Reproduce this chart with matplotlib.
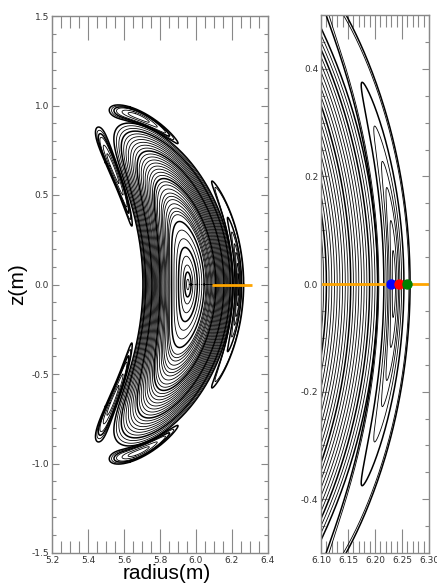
import numpy as np
import matplotlib
matplotlib.use("Agg")
import matplotlib.pyplot as plt
from matplotlib.ticker import MultipleLocator, FormatStrFormatter

# ---- data ----
# magnetic axis and crescent geometry
axis_R = 5.955
bend_radius = 1.18
half_width_out = 0.25
half_width_in = 0.25
half_height = 0.99
# nested flux-surface labels (normalised minor radius)
surface_rho = [0.03, 0.07, 0.11, 0.16, 0.21, 0.26, 0.31, 0.36,
               0.40, 0.42, 0.44, 0.465, 0.49, 0.51, 0.53, 0.555, 0.58, 0.60,
               0.62, 0.64, 0.66, 0.68, 0.70, 0.72, 0.74, 0.76, 0.78, 0.80,
               0.82, 0.84, 0.86, 0.88, 0.90, 0.92, 0.94, 0.96, 0.98, 1.00]
thick_surfaces = [0.07, 0.21, 0.36, 0.62, 0.80, 0.94, 1.00]
# island chain: centre (rho, theta in degrees), half width, half span
island_rho = [1.12, 1.075, 1.10, 1.10, 1.075]
island_theta = [0, 63, 130, -130, -63]
island_halfwidth = [0.12, 0.075, 0.075, 0.075, 0.075]
island_span = [26, 20, 27, 27, 20]
loops_right = [1.0, 0.93, 0.62, 0.48, 0.37, 0.29, 0.19, 0.10]
loops_other = [1.0, 0.9, 0.8, 0.7, 0.5, 0.3]
# scan line and sample points
scan_R = [6.09, 6.31]
scan_Z = [0.0, 0.0]
point_R = [6.230, 6.245, 6.260]
point_Z = [0.0, 0.0, 0.0]
point_colors = ["#0000ff", "#ff0000", "#008000"]


def to_RZ(rho, th):
    c = np.cos(th)
    a = np.where(c >= 0, half_width_out, half_width_in)
    x = a * rho * c
    y = half_height * rho * np.sin(th)
    r = bend_radius + x
    ang = y / bend_radius
    R = axis_R - bend_radius + r * np.cos(ang)
    Z = r * np.sin(ang)
    return R, Z


fig = plt.figure(figsize=(4.37, 5.85), dpi=100)
axL = fig.add_axes([52 / 437, 32 / 585, 216 / 437, 537 / 585])
axR = fig.add_axes([321 / 437, 32 / 585, 108 / 437, 538 / 585])

th = np.linspace(0, 2 * np.pi, 600)
for ax in (axL, axR):
    for rho in surface_rho:
        R, Z = to_RZ(rho, th)
        lw = 1.1 if rho in thick_surfaces else 0.6
        ax.plot(R, Z, color="black", lw=lw, solid_joinstyle="round")
    for k, (rc, tc, hw, sp) in enumerate(zip(island_rho, island_theta,
                                             island_halfwidth, island_span)):
        loops = loops_right if k == 0 else loops_other
        for s in loops:
            rr = rc + hw * s * np.cos(th)
            tt = np.deg2rad(tc + sp * s * np.sin(th))
            R, Z = to_RZ(rr, tt)
            lw = 1.1 if s in (1.0, 0.62, 0.8) else 0.6
            ax.plot(R, Z, color="black", lw=lw)
    ax.plot(scan_R, scan_Z, color="#ffa500", lw=2, solid_capstyle="butt")

for R, Z, c in zip(point_R, point_Z, point_colors):
    axR.plot(R, Z, "o", color=c, ms=6.5, mec=c, zorder=5)

spine_col = "#888888"
lab_col = "#333333"
for ax in (axL, axR):
    for sp in ax.spines.values():
        sp.set_color(spine_col)
        sp.set_linewidth(1.0)
    ax.tick_params(axis="both", which="both", direction="in", colors=spine_col,
                   labelcolor=lab_col, labelsize=6.5, top=True, right=True)
    ax.tick_params(axis="x", which="major", length=17, width=0.8, pad=2)
    ax.tick_params(axis="x", which="minor", length=8.5, width=0.8)
    ax.tick_params(axis="y", which="major", length=5, width=0.8, pad=2)
    ax.tick_params(axis="y", which="minor", length=3, width=0.8)

axL.set_xlim(5.2, 6.4)
axL.set_ylim(-1.5, 1.5)
axL.xaxis.set_major_locator(MultipleLocator(0.2))
axL.xaxis.set_minor_locator(MultipleLocator(0.05))
axL.yaxis.set_major_locator(MultipleLocator(0.5))
axL.yaxis.set_minor_locator(MultipleLocator(0.1))
axL.xaxis.set_major_formatter(FormatStrFormatter("%.1f"))
axL.yaxis.set_major_formatter(FormatStrFormatter("%.1f"))

axR.set_xlim(6.10, 6.30)
axR.set_ylim(-0.5, 0.5)
axR.xaxis.set_major_locator(MultipleLocator(0.05))
axR.xaxis.set_minor_locator(MultipleLocator(0.01))
axR.yaxis.set_major_locator(MultipleLocator(0.2))
axR.yaxis.set_minor_locator(MultipleLocator(0.05))
axR.xaxis.set_major_formatter(FormatStrFormatter("%.2f"))
axR.yaxis.set_major_formatter(FormatStrFormatter("%.1f"))

axL.set_xlabel("radius(m)", fontsize=15, family="Liberation Sans")
axL.xaxis.set_label_coords(0.53, -0.021, transform=axL.transAxes)
axL.xaxis.label.set_va("top")
axL.set_ylabel("z(m)", fontsize=15, family="Liberation Sans")
axL.yaxis.set_label_coords(-0.115, 0.5, transform=axL.transAxes)

fig.savefig("out.png", dpi=100)
